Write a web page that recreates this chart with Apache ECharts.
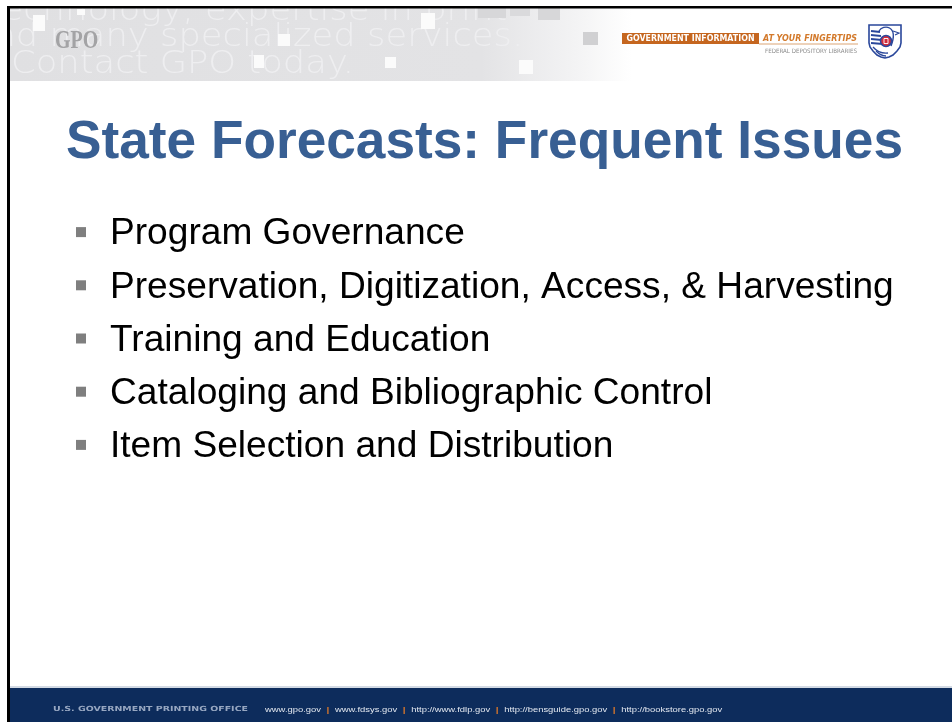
<!DOCTYPE html>
<html>
<head>
<meta charset="utf-8">
<script src="https://cdn.jsdelivr.net/npm/echarts@6/dist/echarts.min.js"></script>
<style>
  html, body { margin: 0; padding: 0; background: #fff; }
  #slide { width: 952px; height: 722px; }
</style>
</head>
<body>
<div id="slide"></div>
<script>
// slide content
var titleText = 'State Forecasts: Frequent Issues';
var bulletItems = [
  'Program Governance',
  'Preservation, Digitization, Access, & Harvesting',
  'Training and Education',
  'Cataloging and Bibliographic Control',
  'Item Selection and Distribution'
];
var bannerLines = ['Technology, expertise in print', 'and many specialized services.', 'Contact GPO today.'];
var bannerPrefix = ['Technology, ', 'and many ', ''];
var footerOffice = 'U.S. GOVERNMENT PRINTING OFFICE';
var footerLinks = ['www.gpo.gov', 'www.fdsys.gov', 'http://www.fdlp.gov', 'http://bensguide.gpo.gov', 'http://bookstore.gpo.gov'];

var measureCtx = document.createElement('canvas').getContext('2d');
function textWidth(str, font) {
  measureCtx.font = font;
  return measureCtx.measureText(str).width;
}

// fit sizes to the widths seen on the slide
var titleSize = 54 * 837 / textWidth(titleText, 'bold 54px "Liberation Sans"');
var widest = Math.max.apply(null, bulletItems.map(function (s) {
  return textWidth(s, '37px "Liberation Sans"');
}));
var bulletSize = 37 * 784 / widest;

var bannerFont = '200 32px "DejaVu Sans"';
var bannerScale = 343 / textWidth(bannerLines[2], bannerFont);
var bannerAnchor = [205, 160, 11];
var bannerY = [12, 38, 65];

var officeScale = 195 / textWidth(footerOffice, 'bold 7px "DejaVu Sans"');
var linksPlain = footerLinks.join('  |  ');
var linksScale = 453 / textWidth(linksPlain, '7.5px "Liberation Sans"');
var linksRich = footerLinks.map(function (l) { return '{l|' + l + '}'; }).join('{s|  |  }');

var graphics = [];

// grey header band
graphics.push({
  type: 'rect', z: 1, silent: true,
  shape: { x: 10, y: 8, width: 942, height: 73 },
  style: {
    fill: new echarts.graphic.LinearGradient(0, 0, 1, 0, [
      { offset: 0, color: '#e0e0e2' },
      { offset: 0.5, color: '#e3e3e5' },
      { offset: 0.6, color: '#f3f3f4' },
      { offset: 0.66, color: '#ffffff' },
      { offset: 1, color: '#ffffff' }
    ])
  }
});

bannerLines.forEach(function (line, i) {
  var x0 = bannerAnchor[i] - textWidth(bannerPrefix[i], bannerFont) * bannerScale;
  graphics.push({
    type: 'text', z: 2, silent: true,
    x: x0, y: bannerY[i], scaleX: bannerScale,
    style: {
      text: line, fill: '#eeeef0',
      font: bannerFont, align: 'left', verticalAlign: 'middle'
    }
  });
});

// decorative squares in the header
[[33, 15, 12, 16], [77, 9, 8, 6], [278, 34, 12, 12], [254, 55, 10, 13],
 [385, 57, 11, 11], [421, 13, 14, 16], [519, 60, 14, 14]].forEach(function (r) {
  graphics.push({ type: 'rect', z: 3, silent: true,
    shape: { x: r[0], y: r[1], width: r[2], height: r[3] }, style: { fill: '#fbfbfb' } });
});
[[478, 8, 28, 10, '#d7d7d9'], [510, 8, 20, 8, '#dadadc'], [538, 8, 22, 12, '#d7d7d9'],
 [583, 32, 15, 13, '#d0d0d2']].forEach(function (r) {
  graphics.push({ type: 'rect', z: 3, silent: true,
    shape: { x: r[0], y: r[1], width: r[2], height: r[3] }, style: { fill: r[4] } });
});

// GPO mark
graphics.push({
  type: 'text', z: 4, silent: true, x: 55, y: 42, scaleX: 0.8,
  style: { text: 'GPO', fill: '#a3a3a5', font: 'bold 25px "Liberation Serif"', verticalAlign: 'middle' }
});

// FDLP banner
graphics.push({ type: 'rect', z: 4, silent: true,
  shape: { x: 622, y: 33, width: 137, height: 11 }, style: { fill: '#c5661f' } });
graphics.push({ type: 'rect', z: 4, silent: true,
  shape: { x: 759, y: 43.5, width: 99, height: 1 }, style: { fill: '#dca577' } });
graphics.push({
  type: 'text', z: 5, silent: true, x: 690.5, y: 38.8,
  scaleX: 128 / textWidth('GOVERNMENT INFORMATION', 'bold 9px "DejaVu Sans"'),
  style: { text: 'GOVERNMENT INFORMATION', fill: '#ffffff', font: 'bold 9px "DejaVu Sans"',
    align: 'center', verticalAlign: 'middle' }
});
graphics.push({
  type: 'text', z: 5, silent: true, x: 763, y: 38.5,
  scaleX: 94 / textWidth('AT YOUR FINGERTIPS', 'italic bold 9px "DejaVu Sans"'),
  style: { text: 'AT YOUR FINGERTIPS', fill: '#d37a2c', font: 'italic bold 9px "DejaVu Sans"',
    align: 'left', verticalAlign: 'middle' }
});
graphics.push({
  type: 'text', z: 5, silent: true, x: 857, y: 51,
  scaleX: 92 / textWidth('FEDERAL DEPOSITORY LIBRARIES', '6px "DejaVu Sans"'),
  style: { text: 'FEDERAL DEPOSITORY LIBRARIES', fill: '#8c8c8c', font: '6px "DejaVu Sans"',
    align: 'right', verticalAlign: 'middle' }
});

// eagle shield
var blue = '#2a479b';
graphics.push({ type: 'polygon', z: 5, silent: true,
  shape: { points: [[869, 25], [901, 25], [901, 43], [900, 47], [897, 51], [893, 55], [889, 57], [885, 58],
    [881, 57], [877, 55], [873, 51], [870, 47], [869, 43]] },
  style: { fill: '#ffffff', stroke: blue, lineWidth: 1.6 } });
graphics.push({ type: 'bezierCurve', z: 6, silent: true,
  shape: { x1: 879, y1: 31, cpx1: 883, cpy1: 24, cpx2: 899, cpy2: 25, x2: 891, y2: 46 },
  style: { fill: 'none', stroke: blue, lineWidth: 1.4 } });
graphics.push({ type: 'polyline', z: 6, silent: true,
  shape: { points: [[893, 31], [899, 33], [895, 35]] },
  style: { fill: 'none', stroke: blue, lineWidth: 1.2 } });
[31, 35, 39, 43].forEach(function (y, i) {
  graphics.push({ type: 'line', z: 6, silent: true,
    shape: { x1: 871, y1: y, x2: 880 + i, y2: y + 1 }, style: { stroke: blue, lineWidth: 1.8 } });
});
graphics.push({ type: 'bezierCurve', z: 6, silent: true,
  shape: { x1: 873, y1: 47, cpx1: 879, cpy1: 54, x2: 888, y2: 53 },
  style: { fill: 'none', stroke: blue, lineWidth: 1.3 } });
graphics.push({ type: 'bezierCurve', z: 6, silent: true,
  shape: { x1: 876, y1: 51, cpx1: 881, cpy1: 56, x2: 886, y2: 56 },
  style: { fill: 'none', stroke: blue, lineWidth: 1.3 } });
graphics.push({ type: 'circle', z: 7, silent: true,
  shape: { cx: 886, cy: 41, r: 5.5 }, style: { fill: '#cf2c3c', stroke: blue, lineWidth: 1.5 } });
graphics.push({ type: 'rect', z: 8, silent: true,
  shape: { x: 884, y: 38.5, width: 4, height: 5 }, style: { fill: 'none', stroke: '#ffffff', lineWidth: 0.9 } });

// title
graphics.push({
  type: 'text', z: 10, silent: true, x: 484.5, y: 143.5,
  style: { text: titleText, fill: '#385f93', font: 'bold ' + titleSize.toFixed(2) + 'px "Liberation Sans"',
    align: 'center', verticalAlign: 'middle' }
});

// footer
graphics.push({ type: 'rect', z: 10, silent: true,
  shape: { x: 0, y: 686, width: 952, height: 2 }, style: { fill: '#d3dae4' } });
graphics.push({ type: 'rect', z: 10, silent: true,
  shape: { x: 0, y: 688, width: 952, height: 34 }, style: { fill: '#0d2c5c' } });
graphics.push({
  type: 'text', z: 11, silent: true, x: 53, y: 709.5, scaleX: officeScale,
  style: { text: footerOffice, fill: '#98a8c2', font: 'bold 7px "DejaVu Sans"', verticalAlign: 'middle' }
});
graphics.push({
  type: 'text', z: 11, silent: true, x: 265, y: 709.5, scaleX: linksScale,
  style: {
    text: linksRich, verticalAlign: 'middle',
    rich: {
      l: { fill: '#e3e8f0', fontSize: 7.5, fontFamily: 'Liberation Sans' },
      s: { fill: '#d8772b', fontSize: 8, fontWeight: 'bold', fontFamily: 'Liberation Sans' }
    }
  }
});

// slide frame
graphics.push({ type: 'rect', z: 20, silent: true,
  shape: { x: 0, y: 0, width: 952, height: 6 }, style: { fill: '#ffffff' } });
graphics.push({ type: 'rect', z: 20, silent: true,
  shape: { x: 0, y: 0, width: 7, height: 722 }, style: { fill: '#ffffff' } });
graphics.push({ type: 'rect', z: 21, silent: true,
  shape: { x: 7, y: 6, width: 945, height: 2.5 }, style: { fill: '#000000' } });
graphics.push({ type: 'rect', z: 21, silent: true,
  shape: { x: 7, y: 6, width: 3, height: 716 }, style: { fill: '#000000' } });

var chart = echarts.init(document.getElementById('slide'));
chart.setOption({
  animation: false,
  backgroundColor: '#ffffff',
  grid: { left: 81, right: 40, top: 205.5, height: 266 },
  xAxis: { type: 'value', min: 0, max: 1, show: false },
  yAxis: { type: 'category', data: bulletItems, inverse: true, show: false },
  graphic: graphics,
  series: [{
    type: 'scatter',
    symbol: 'rect',
    symbolSize: 10,
    silent: true,
    itemStyle: { color: '#7f7f7f', opacity: 1 },
    label: {
      show: true,
      position: 'right',
      distance: 24,
      offset: [0, 2],
      color: '#000000',
      opacity: 1,
      fontSize: bulletSize,
      fontFamily: 'Liberation Sans',
      formatter: function (p) { return p.value[1]; }
    },
    data: bulletItems.map(function (name) { return [0, name]; })
  }]
});
</script>
</body>
</html>
